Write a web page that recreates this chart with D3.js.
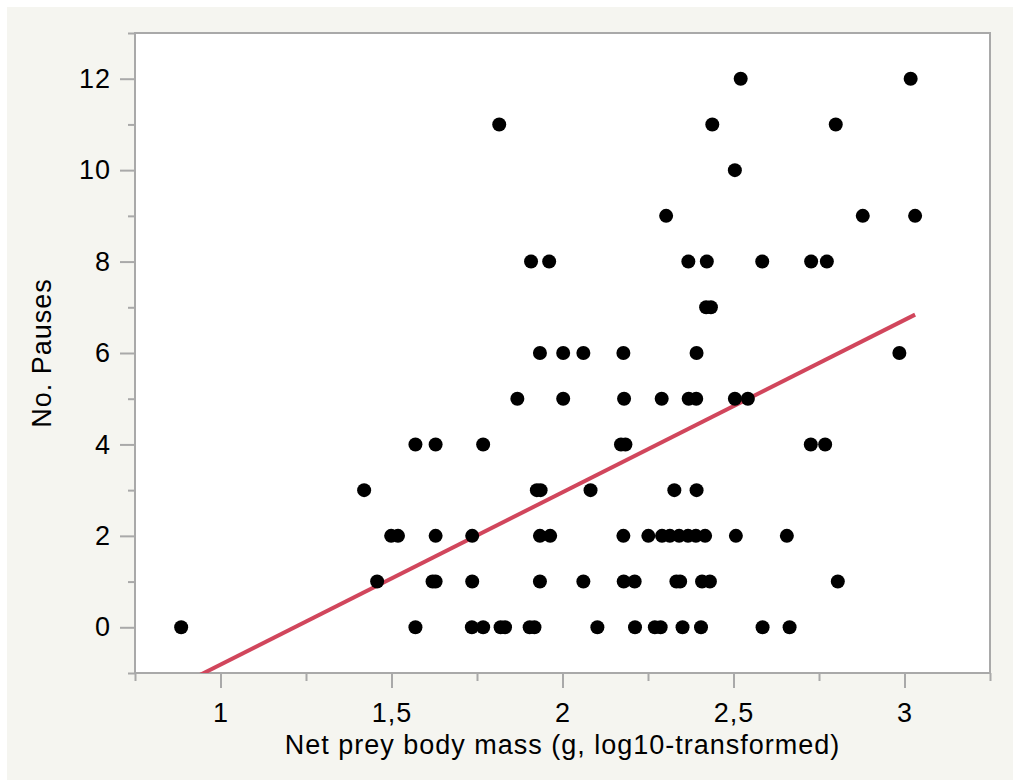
<!DOCTYPE html>
<html>
<head>
<meta charset="utf-8">
<script src="https://cdn.jsdelivr.net/npm/d3@7"></script>
<style>
  body { margin: 0; background: #fff; }
  text { font-family: "Liberation Sans", Arial, sans-serif; fill: #000; }
</style>
</head>
<body>
<div id="chart"></div>
<script>
// net prey body mass (log10 g), one line per number of pauses
const bodyMass = [
  0.885, 1.570, 1.735, 1.768, 1.819, 1.832, 1.904, 1.918, 2.102, 2.212, 2.270, 2.287, 2.351, 2.405, 2.585, 2.664,
  1.458, 1.620, 1.629, 1.736, 1.934, 2.061, 2.179, 2.211, 2.333, 2.344, 2.408, 2.431, 2.805,
  1.499, 1.519, 1.629, 1.736, 1.934, 1.964, 2.178, 2.251, 2.291, 2.314, 2.341, 2.367, 2.390, 2.417, 2.507, 2.656,
  1.420, 1.925, 1.936, 2.082, 2.327, 2.392,
  1.570, 1.629, 1.768, 2.171, 2.184, 2.726, 2.768,
  1.868, 2.002, 2.180, 2.290, 2.369, 2.391, 2.504, 2.542,
  1.934, 2.002, 2.061, 2.178, 2.392, 2.985,
  2.420, 2.434,
  1.908, 1.961, 2.368, 2.422, 2.584, 2.727, 2.773,
  2.303, 2.878, 3.031,
  2.504,
  1.815, 2.438, 2.799,
  2.521, 3.018
];
const pauses = [
  0, 0, 0, 0, 0, 0, 0, 0, 0, 0, 0, 0, 0, 0, 0, 0,
  1, 1, 1, 1, 1, 1, 1, 1, 1, 1, 1, 1, 1,
  2, 2, 2, 2, 2, 2, 2, 2, 2, 2, 2, 2, 2, 2, 2, 2,
  3, 3, 3, 3, 3, 3,
  4, 4, 4, 4, 4, 4, 4,
  5, 5, 5, 5, 5, 5, 5, 5,
  6, 6, 6, 6, 6, 6,
  7, 7,
  8, 8, 8, 8, 8, 8, 8,
  9, 9, 9,
  10,
  11, 11, 11,
  12, 12
];
// linear fit
const fitSlope = 3.77;
const fitIntercept = -4.587;

const xTickValues = [1, 1.5, 2, 2.5, 3];
const xTickLabels = ["1", "1,5", "2", "2,5", "3"];
const xMinorTicks = [0.75, 1.25, 1.75, 2.25, 2.75, 3.25];
const yTickValues = [0, 2, 4, 6, 8, 10, 12];
const yMinorTicks = [-1, 1, 3, 5, 7, 9, 11, 13];

const width = 1013, height = 780;
const margin = {top: 33, right: 23, bottom: 107, left: 135};
const axisColor = "#a9a9a9";

const svg = d3.select("#chart").append("svg")
  .attr("width", width)
  .attr("height", height);

// panel background
svg.append("rect")
  .attr("x", 7).attr("y", 7)
  .attr("width", width - 7).attr("height", height - 7)
  .style("fill", "#f5f5f0");

const x = d3.scaleLinear().domain([0.75, 3.25]).range([margin.left, width - margin.right]);
const y = d3.scaleLinear().domain([-1, 13]).range([height - margin.bottom, margin.top]);

svg.append("rect")
  .attr("x", x.range()[0]).attr("y", y.range()[1])
  .attr("width", x.range()[1] - x.range()[0])
  .attr("height", y.range()[0] - y.range()[1])
  .style("fill", "#fff");

svg.append("clipPath").attr("id", "plotClip")
  .append("rect")
  .attr("x", x.range()[0]).attr("y", y.range()[1])
  .attr("width", x.range()[1] - x.range()[0])
  .attr("height", y.range()[0] - y.range()[1]);

// axes: minor ticks first, then labelled major ticks
function styleAxis(g) {
  g.select(".domain").remove();
  g.selectAll(".tick line").style("stroke", axisColor).style("stroke-width", 2);
  g.selectAll(".tick text")
    .style("font-size", "27px")
    .style("letter-spacing", "1px")
    .style("font-family", '"Liberation Sans", Arial, sans-serif');
}

svg.append("g")
  .attr("transform", `translate(0,${y.range()[0]})`)
  .call(d3.axisBottom(x).tickValues(xMinorTicks).tickSize(8).tickFormat(""))
  .call(styleAxis);
svg.append("g")
  .attr("transform", `translate(0,${y.range()[0]})`)
  .call(d3.axisBottom(x).tickValues(xTickValues).tickSize(15).tickPadding(15)
    .tickFormat((d, i) => xTickLabels[i]))
  .call(styleAxis);

svg.append("g")
  .attr("transform", `translate(${x.range()[0]},0)`)
  .call(d3.axisLeft(y).tickValues(yMinorTicks).tickSize(7).tickFormat(""))
  .call(styleAxis);
svg.append("g")
  .attr("transform", `translate(${x.range()[0]},0)`)
  .call(d3.axisLeft(y).tickValues(yTickValues).tickSize(15).tickPadding(9))
  .call(styleAxis);

// frame
svg.append("rect")
  .attr("x", x.range()[0]).attr("y", y.range()[1])
  .attr("width", x.range()[1] - x.range()[0])
  .attr("height", y.range()[0] - y.range()[1])
  .style("fill", "none")
  .style("stroke", axisColor)
  .style("stroke-width", 2);

// regression line over the data range, clipped to the frame
const xExtent = d3.extent(bodyMass);
svg.append("line")
  .attr("clip-path", "url(#plotClip)")
  .attr("x1", x(xExtent[0])).attr("y1", y(fitIntercept + fitSlope * xExtent[0]))
  .attr("x2", x(xExtent[1])).attr("y2", y(fitIntercept + fitSlope * xExtent[1]))
  .style("stroke", "#d1465c")
  .style("stroke-width", 4);

svg.append("g").selectAll("circle")
  .data(bodyMass)
  .join("circle")
  .attr("cx", d => x(d))
  .attr("cy", (d, i) => y(pauses[i]))
  .attr("r", 7)
  .style("fill", "#000");

// axis titles
svg.append("text")
  .text("Net prey body mass (g, log10-transformed)")
  .attr("x", (x.range()[0] + x.range()[1]) / 2)
  .attr("y", 754)
  .attr("text-anchor", "middle")
  .style("font-size", "27px")
  .style("letter-spacing", "1px");

svg.append("text")
  .text("No. Pauses")
  .attr("transform", `translate(51,${(y.range()[0] + y.range()[1]) / 2})rotate(-90)`)
  .attr("text-anchor", "middle")
  .style("font-size", "27px")
  .style("letter-spacing", "1px");
</script>
</body>
</html>
